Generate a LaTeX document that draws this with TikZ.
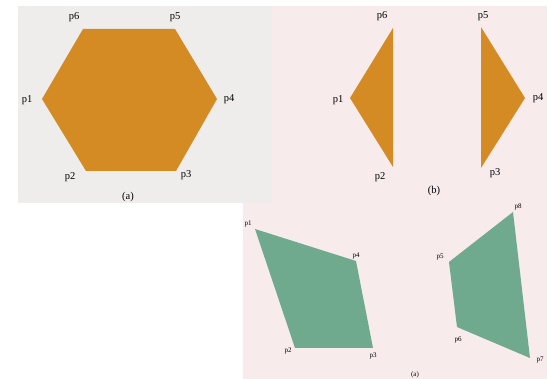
\documentclass[tikz,border=0pt]{standalone}
\usepackage{fontspec}
\setmainfont{Liberation Serif}
\definecolor{hexFill}{RGB}{213,139,36}
\definecolor{quadFill}{RGB}{112,170,142}
\definecolor{pageGray}{RGB}{238,237,236}
\definecolor{pagePink}{RGB}{247,235,236}

\begin{document}
\begin{tikzpicture}[x=1pt,y=-1pt,
    lbl/.style={font=\fontsize{10.5}{12}\selectfont,inner sep=0pt},
    slbl/.style={font=\fontsize{7}{8}\selectfont,inner sep=0pt}]
  \useasboundingbox (0,0) rectangle (547,379);
  % page backgrounds
  \fill[pageGray] (18,6) rectangle (272,203);
  \fill[pagePink] (272,6) rectangle (547,203);
  \fill[pagePink] (243,203) rectangle (547,379);
  % (a) hexagon
  \coordinate (H1) at (42,99);
  \coordinate (H2) at (86,171);
  \coordinate (H3) at (176,171);
  \coordinate (H4) at (217,99);
  \coordinate (H5) at (175,29);
  \coordinate (H6) at (83,29);
  \fill[hexFill] (H1) -- (H2) -- (H3) -- (H4) -- (H5) -- (H6) -- cycle;
  \node[lbl] (h1) at (27,100) {p1};
  \node[lbl] (h2) at (70,177) {p2};
  \node[lbl] (h3) at (186,175) {p3};
  \node[lbl] (h4) at (229,99) {p4};
  \node[lbl] (h5) at (175,17) {p5};
  \node[lbl] (h6) at (74,17) {p6};
  \node[lbl] (capA) at (128,197) {(a)};
  % (b) split into two triangles
  \coordinate (T1) at (350,98);
  \coordinate (T2) at (393,167);
  \coordinate (T6) at (393,28);
  \coordinate (T3) at (481,168);
  \coordinate (T4) at (525,98);
  \coordinate (T5) at (481,27);
  \fill[hexFill] (T1) -- (T2) -- (T6) -- cycle;
  \fill[hexFill] (T3) -- (T4) -- (T5) -- cycle;
  \node[lbl] (t1) at (338,100) {p1};
  \node[lbl] (t2) at (380,177) {p2};
  \node[lbl] (t3) at (495,173) {p3};
  \node[lbl] (t4) at (538,98) {p4};
  \node[lbl] (t5) at (483,16) {p5};
  \node[lbl] (t6) at (382,16) {p6};
  \node[lbl] (capB) at (434,191) {(b)};
  % two quadrilaterals
  \coordinate (Q1) at (255,229);
  \coordinate (Q2) at (295,348);
  \coordinate (Q3) at (373,348);
  \coordinate (Q4) at (356,261);
  \coordinate (Q5) at (449,262);
  \coordinate (Q6) at (457,327);
  \coordinate (Q7) at (530,358);
  \coordinate (Q8) at (513,212);
  \fill[quadFill] (Q1) -- (Q2) -- (Q3) -- (Q4) -- cycle;
  \fill[quadFill] (Q5) -- (Q6) -- (Q7) -- (Q8) -- cycle;
  \node[slbl] (q1) at (248,224) {p1};
  \node[slbl] (q2) at (288,351) {p2};
  \node[slbl] (q3) at (373,356) {p3};
  \node[slbl] (q4) at (356,256) {p4};
  \node[slbl] (q5) at (440,257) {p5};
  \node[slbl] (q6) at (458,340) {p6};
  \node[slbl] (q7) at (540,360) {p7};
  \node[slbl] (q8) at (518,207) {p8};
  \node[slbl] (capC) at (415,375) {(a)};
\end{tikzpicture}
\end{document}
